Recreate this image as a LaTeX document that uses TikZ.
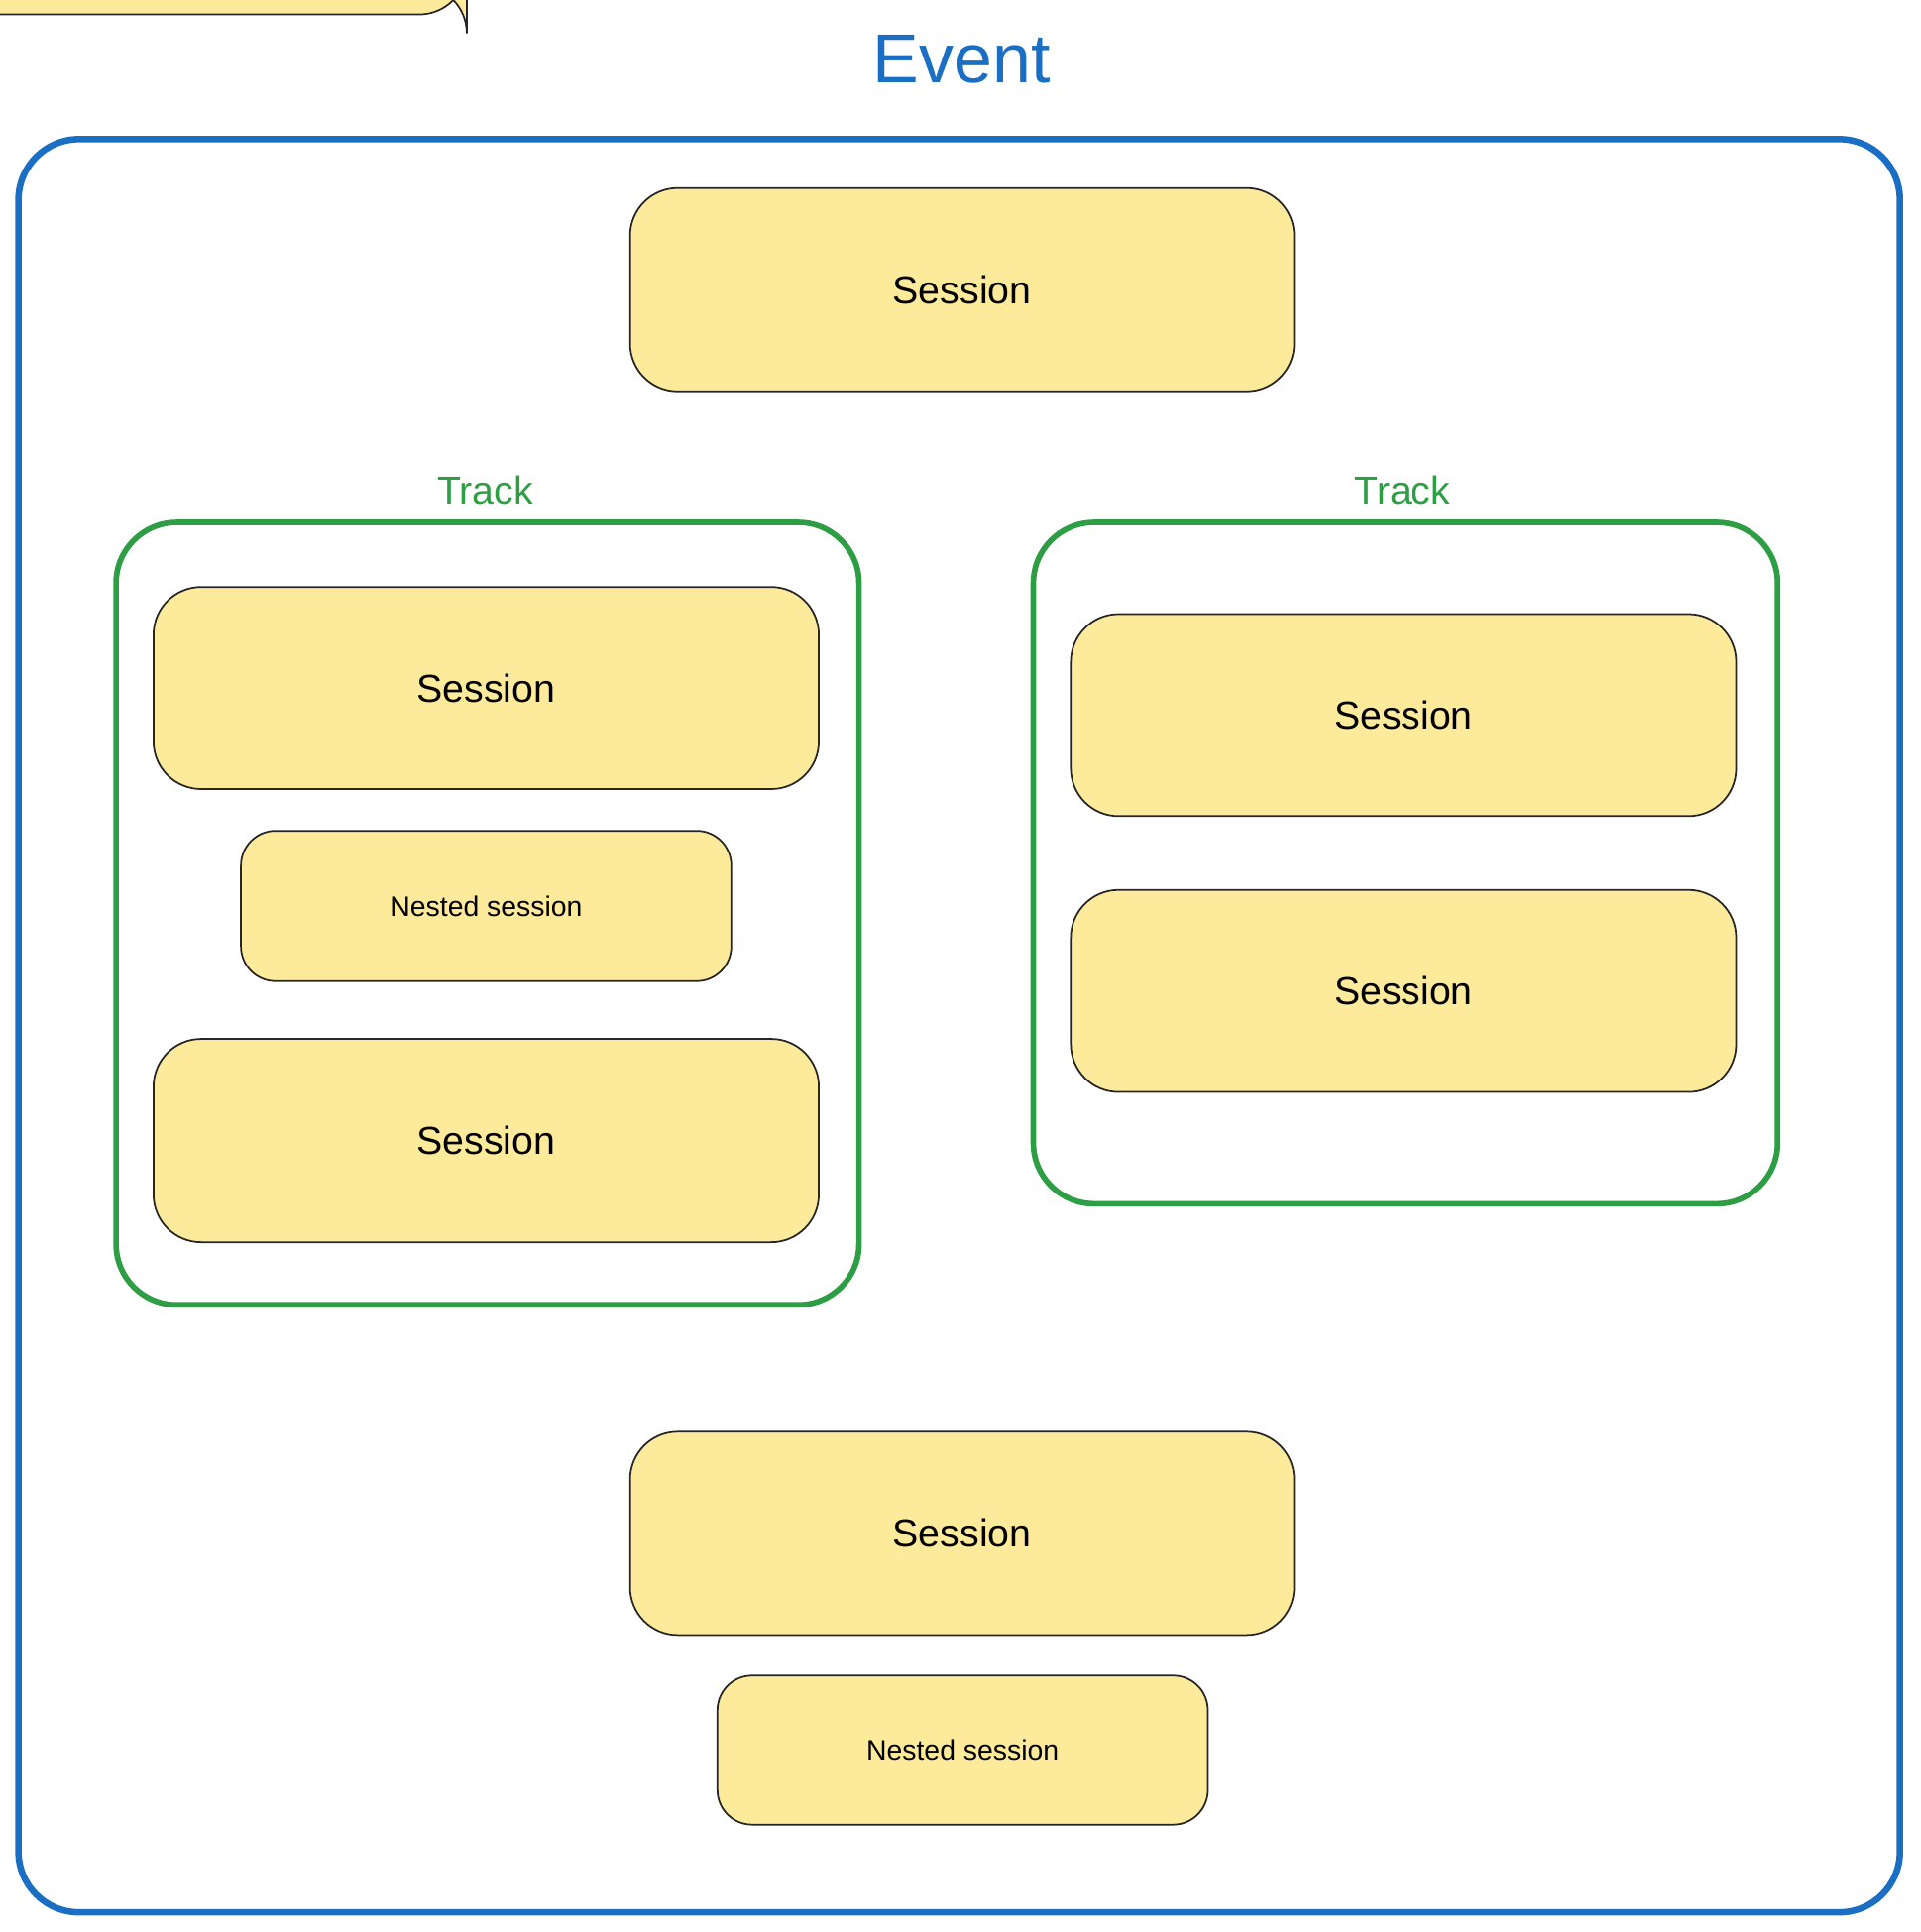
\documentclass[tikz,border=0pt]{standalone}
\usepackage{fontspec}
\setmainfont{Liberation Sans}
\begin{document}
\begin{tikzpicture}[x=0.01cm,y=-0.01cm,
  sess/.style={draw=black!85,line width=0.4pt,fill=sessfill,rounded corners=11pt,font=\fontsize{9}{11}\selectfont},
  nest/.style={draw=black!85,line width=0.4pt,fill=sessfill,rounded corners=8pt,font=\fontsize{6.5}{8}\selectfont},
  track/.style={draw=trackgreen,line width=1.3pt,rounded corners=14pt},
  tlabel/.style={text=trackgreen,font=\fontsize{9}{11}\selectfont}]
\definecolor{sessfill}{HTML}{FDEA9B}
\definecolor{trackgreen}{HTML}{2E9E44}
\definecolor{eventblue}{HTML}{1A6FC4}
\useasboundingbox (0,0) rectangle (1560,1569);
\node[text=eventblue,font=\fontsize{16}{19}\selectfont] (title) at (781,48) {Event};
\draw[draw=eventblue,line width=1.5pt,rounded corners=14pt] (15,113) rectangle (1543,1553);
\node[sess,minimum width=539\pgflinewidth] at (0,0) {};
\path (511,152) rectangle (1050,317);
\node[sess,anchor=north west,minimum width=5.39cm,minimum height=1.65cm] (s1) at (511,152) {Session};
\node[tlabel] (tl1) at (394,398) {Track};
\node[track,anchor=north west,minimum width=6.03cm,minimum height=6.35cm] (t1) at (92,422) {};
\node[sess,anchor=north west,minimum width=5.40cm,minimum height=1.64cm] (s2) at (124,476) {Session};
\node[nest,anchor=north west,minimum width=3.98cm,minimum height=1.22cm] (n1) at (195,674) {Nested session};
\node[sess,anchor=north west,minimum width=5.40cm,minimum height=1.65cm] (s3) at (124,843) {Session};
\node[tlabel] (tl2) at (1139,398) {Track};
\node[track,anchor=north west,minimum width=6.04cm,minimum height=5.53cm] (t2) at (837,422) {};
\node[sess,anchor=north west,minimum width=5.40cm,minimum height=1.64cm] (s4) at (869,498) {Session};
\node[sess,anchor=north west,minimum width=5.40cm,minimum height=1.64cm] (s5) at (869,722) {Session};
\node[sess,anchor=north west,minimum width=5.39cm,minimum height=1.65cm] (s6) at (511,1162) {Session};
\node[nest,anchor=north west,minimum width=3.98cm,minimum height=1.21cm] (n2) at (582,1360) {Nested session};
\end{tikzpicture}
\end{document}
